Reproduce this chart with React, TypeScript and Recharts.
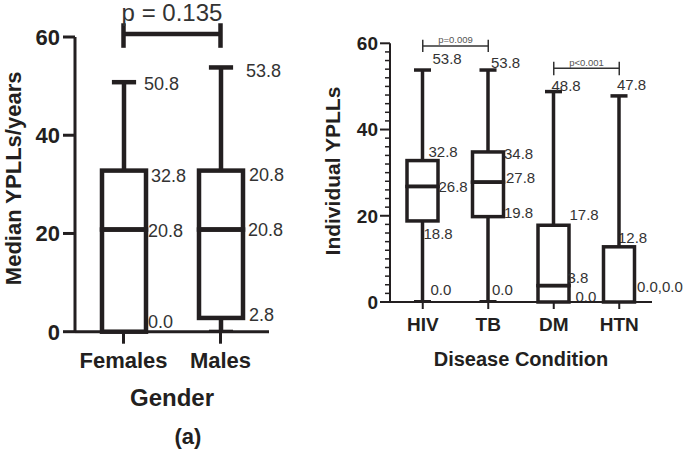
import React from 'react';
import { ComposedChart, Bar, XAxis, YAxis, ReferenceLine } from 'recharts';

const FONT = '"Liberation Sans", Arial, Helvetica, sans-serif';
const INK = '#231f20';
const LABEL = '#333333';

// (a) median YPLLs by gender
const genders = ['Females', 'Males'];
const genderMin = [0, 0];
const genderQ1 = [0, 2.8];
const genderMedian = [20.8, 20.8];
const genderQ3 = [32.8, 32.8];
const genderMax = [50.8, 53.8];
const genderMaxText = ['50.8', '53.8'];
const genderQ3Text = ['32.8', '20.8'];
const genderMedianText = ['20.8', '20.8'];
const genderQ1Text = ['0.0', '2.8'];
const genderMinText = ['', ''];
const genderTicks = [0, 20, 40, 60];

// individual YPLLs by disease condition
const diseases = ['HIV', 'TB', 'DM', 'HTN'];
const diseaseMin = [0, 0, 0, 0];
const diseaseQ1 = [18.8, 19.8, 0, 0];
const diseaseMedian = [26.8, 27.8, 3.8, 0];
const diseaseQ3 = [32.8, 34.8, 17.8, 12.8];
const diseaseMax = [53.8, 53.8, 48.8, 47.8];
const diseaseMaxText = ['53.8', '53.8', '48.8', '47.8'];
const diseaseQ3Text = ['32.8', '34.8', '17.8', '12.8'];
const diseaseMedianText = ['26.8', '27.8', '3.8', '0.0,0.0'];
const diseaseQ1Text = ['18.8', '19.8', '0.0', ''];
const diseaseMinText = ['0.0', '0.0', '', ''];
const diseaseTicks = [0, 2, 4, 6, 8, 10, 12, 14, 16, 18, 20, 22, 24, 26, 28, 30, 32, 34, 36, 38, 40, 42, 44, 46, 48, 50, 52, 54, 56, 58, 60];

// significance brackets, y in axis units
const genderBrackets = [{ from: 'Females', to: 'Males', y: 60.6, top: 62.8, bottom: 57.8, text: 'p = 0.135' }];
const diseaseBrackets = [
  { from: 'HIV', to: 'TB', y: 59.4, top: 60.8, bottom: 58.0, text: 'p=0.009' },
  { from: 'DM', to: 'HTN', y: 54.2, top: 55.7, bottom: 52.6, text: 'p<0.001' },
];

type Key = 'max' | 'q3' | 'median' | 'q1' | 'min';
type Nudges = Record<string, Partial<Record<Key, [number, number]>>>;

// label offsets (px) from the category centre / value position
const genderNudges: Nudges = {
  Females: { max: [20, 2], q3: [27, 5], median: [24, 1], q1: [24, -10] },
  Males: { max: [25, 3], q3: [28, 4], median: [27, 0], q1: [28, -3] },
};
const diseaseNudges: Nudges = {
  HIV: { max: [10, -11], q3: [6, -9], median: [16, 0], q1: [1, 13], min: [8, -12] },
  TB: { max: [3, -7], q3: [16, 2], median: [18, -4], q1: [16, -4], min: [4, -12] },
  DM: { max: [-2, -6], q3: [16, -11], median: [14, -8], q1: [22, -5] },
  HTN: { max: [-2, -11], q3: [-1, -9], median: [18, -15] },
};

const buildRows = (
  names: string[], min: number[], q1: number[], med: number[], q3: number[], max: number[],
  texts: { max: string[]; q3: string[]; median: string[]; q1: string[]; min: string[] }
) =>
  names.map((name, i) => ({
    name,
    base: min[i],
    lowWhisker: q1[i] - min[i],
    lowBox: med[i] - q1[i],
    highBox: q3[i] - med[i],
    highWhisker: max[i] - q3[i],
    maxText: texts.max[i],
    q3Text: texts.q3[i],
    medianText: texts.median[i],
    q1Text: texts.q1[i],
    minText: texts.min[i],
  }));

const genderRows = buildRows(genders, genderMin, genderQ1, genderMedian, genderQ3, genderMax, {
  max: genderMaxText, q3: genderQ3Text, median: genderMedianText, q1: genderQ1Text, min: genderMinText,
});
const diseaseRows = buildRows(diseases, diseaseMin, diseaseQ1, diseaseMedian, diseaseQ3, diseaseMax, {
  max: diseaseMaxText, q3: diseaseQ3Text, median: diseaseMedianText, q1: diseaseQ1Text, min: diseaseMinText,
});

const makeShapes = (sw: number, font: number, nudges: Nudges) => {
  const label = (payload: any, key: Key, cx: number, y: number) => {
    const text = payload[key + 'Text'];
    if (!text) return null;
    const [dx, dy] = nudges[payload.name]?.[key] ?? [0, 0];
    return (
      <text x={cx + dx} y={y + dy} dy="0.35em" fontSize={font} fill={LABEL} fontFamily={FONT}>
        {text}
      </text>
    );
  };
  const line = (x1: number, y1: number, x2: number, y2: number, w = sw) => (
    <line x1={x1} y1={y1} x2={x2} y2={y2} stroke={INK} strokeWidth={w} />
  );
  return {
    base: () => <g />,
    lowWhisker: (p: any) => {
      const cx = p.x + p.width / 2;
      const half = p.width * 0.275;
      const bottom = p.y + p.height;
      return (
        <g>
          {p.height > 0 && line(cx, p.y, cx, bottom)}
          {p.height > 0 && line(cx - half, bottom - 1, cx + half, bottom - 1, 2)}
          {label(p.payload, 'min', cx, bottom)}
        </g>
      );
    },
    lowBox: (p: any) => {
      const cx = p.x + p.width / 2;
      return (
        <g>
          <rect x={p.x} y={p.y} width={p.width} height={Math.max(p.height, 0)} fill="none" stroke={INK} strokeWidth={sw} />
          {label(p.payload, 'q1', cx, p.y + p.height)}
        </g>
      );
    },
    highBox: (p: any) => {
      const cx = p.x + p.width / 2;
      return (
        <g>
          <rect x={p.x} y={p.y} width={p.width} height={Math.max(p.height, 0)} fill="none" stroke={INK} strokeWidth={sw} />
          {label(p.payload, 'q3', cx, p.y)}
          {label(p.payload, 'median', cx, p.y + p.height)}
        </g>
      );
    },
    highWhisker: (p: any) => {
      const cx = p.x + p.width / 2;
      const half = p.width * 0.275;
      return (
        <g>
          {line(cx, p.y, cx, p.y + p.height)}
          {line(cx - half, p.y, cx + half, p.y)}
          {label(p.payload, 'max', cx, p.y)}
        </g>
      );
    },
  };
};

const genderShapes = makeShapes(4.5, 18, genderNudges);
const diseaseShapes = makeShapes(3.5, 15, diseaseNudges);

const boxBars = (shapes: any, size: number) =>
  ['base', 'lowWhisker', 'lowBox', 'highBox', 'highWhisker'].map((k) => (
    <Bar key={k} dataKey={k} stackId="box" fill="none" barSize={size} isAnimationActive={false} shape={shapes[k]} />
  ));

const bracketLines = (list: any[], sw: number, color: string, font: number, offset: number) =>
  list.map((b) => (
    <React.Fragment key={b.text}>
      <ReferenceLine
        segment={[{ x: b.from, y: b.y }, { x: b.to, y: b.y }]}
        stroke={color}
        strokeWidth={sw}
        ifOverflow="visible"
        label={{ value: b.text, position: 'top', offset, fill: color === INK ? LABEL : '#555', fontSize: font, fontFamily: FONT }}
      />
      <ReferenceLine segment={[{ x: b.from, y: b.bottom }, { x: b.from, y: b.top }]} stroke={color} strokeWidth={sw} ifOverflow="visible" />
      <ReferenceLine segment={[{ x: b.to, y: b.bottom }, { x: b.to, y: b.top }]} stroke={color} strokeWidth={sw} ifOverflow="visible" />
    </React.Fragment>
  ));

const diseaseTick = (props: any) => {
  const { x, y, payload } = props;
  const axisX = x + 10;
  const major = payload.value % 20 === 0;
  return (
    <g>
      <line x1={axisX - (major ? 10 : 5)} x2={axisX} y1={y} y2={y} stroke={INK} strokeWidth={major ? 2 : 1.5} />
      {major && (
        <text x={axisX - 12} y={y} dy="0.355em" textAnchor="end" fill={INK} fontSize={19} fontWeight={700} fontFamily={FONT}>
          {payload.value}
        </text>
      )}
    </g>
  );
};

export default function App() {
  return (
    <div style={{ position: 'absolute', left: 0, top: 0, width: 685, height: 452, background: '#fff', fontFamily: FONT }}>
      <div style={{ position: 'absolute', left: 0, top: 0 }}>
        <ComposedChart width={300} height={452} data={genderRows} margin={{ top: 37, right: 31, bottom: 40.3, left: 0 }}>
          <XAxis
            dataKey="name"
            height={80}
            tickSize={12}
            tickMargin={9}
            axisLine={{ stroke: INK, strokeWidth: 3 }}
            tickLine={{ stroke: INK, strokeWidth: 3 }}
            tick={{ fill: INK, fontSize: 22, fontWeight: 700, fontFamily: FONT }}
            label={{ value: 'Gender', position: 'insideBottom', offset: 6, fill: INK, fontSize: 24, fontWeight: 700, fontFamily: FONT }}
          />
          <YAxis
            type="number"
            domain={[0, 60]}
            ticks={genderTicks}
            interval={0}
            width={75}
            tickSize={12}
            tickMargin={3}
            axisLine={{ stroke: INK, strokeWidth: 3 }}
            tickLine={{ stroke: INK, strokeWidth: 3 }}
            tick={{ fill: INK, fontSize: 22, fontWeight: 700, fontFamily: FONT }}
            label={{ value: 'Median YPLLs/years', angle: -90, position: 'center', dx: -24.5, dy: -6, fill: INK, fontSize: 22, fontWeight: 700, fontFamily: FONT }}
          />
          {boxBars(genderShapes, 44)}
          {bracketLines(genderBrackets, 4.5, INK, 24, 13)}
        </ComposedChart>
      </div>
      <div
        style={{ position: 'absolute', left: 150, top: 424, width: 76, textAlign: 'center', fontSize: 22, fontWeight: 700, lineHeight: '26px', color: INK, fontFamily: FONT }}
      >
        (a)
      </div>
      <div style={{ position: 'absolute', left: 320, top: 0 }}>
        <ComposedChart width={365} height={452} data={diseaseRows} margin={{ top: 43.3, right: 33, bottom: 80, left: 0 }}>
          <XAxis
            dataKey="name"
            height={70}
            tickSize={7}
            tickMargin={9}
            axisLine={{ stroke: INK, strokeWidth: 2 }}
            tickLine={{ stroke: INK, strokeWidth: 2 }}
            tick={{ fill: INK, fontSize: 19, fontWeight: 700, fontFamily: FONT }}
            label={{ value: 'Disease Condition', position: 'insideBottom', offset: 6, fill: INK, fontSize: 20, fontWeight: 700, fontFamily: FONT }}
          />
          <YAxis
            type="number"
            domain={[0, 60]}
            ticks={diseaseTicks}
            interval={0}
            width={70}
            tickSize={10}
            tickMargin={0}
            tickLine={false}
            axisLine={{ stroke: INK, strokeWidth: 2 }}
            tick={diseaseTick}
            label={{ value: 'Individual YPLLs', angle: -90, position: 'center', dx: -22, dy: -1.6, fill: INK, fontSize: 21, fontWeight: 700, fontFamily: FONT }}
          />
          {boxBars(diseaseShapes, 31)}
          {bracketLines(diseaseBrackets, 1.5, '#333333', 9.5, 2.5)}
        </ComposedChart>
      </div>
    </div>
  );
}
